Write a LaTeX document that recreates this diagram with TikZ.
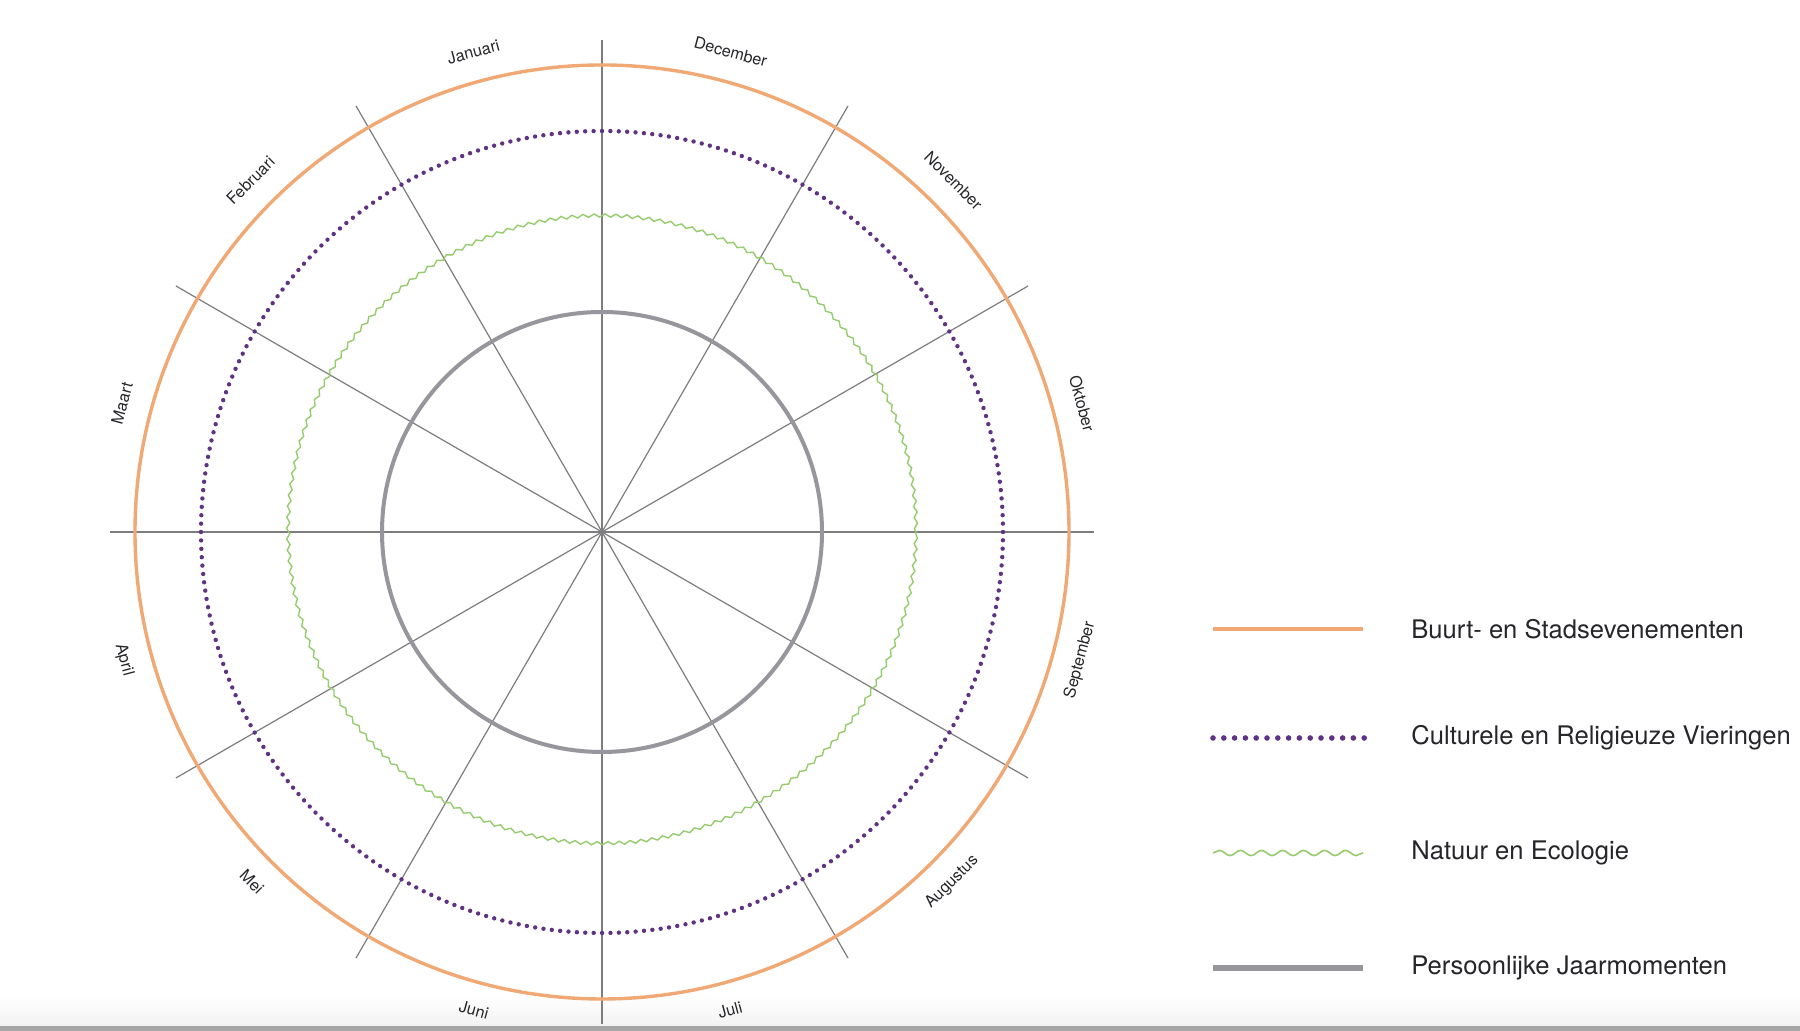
\documentclass[tikz,border=0pt]{standalone}
\usepackage{fontspec}
\setmainfont{TeX Gyre Heros}
\usetikzlibrary{decorations.pathmorphing}
\definecolor{orng}{RGB}{240,168,116}
\definecolor{purp}{RGB}{95,50,130}
\definecolor{grn}{RGB}{150,204,110}
\definecolor{ringgray}{RGB}{150,150,156}
\definecolor{spokegray}{RGB}{125,125,128}
\definecolor{txt}{RGB}{38,38,42}
\tikzset{
  spoke/.style={draw=spokegray, line width=0.6pt},
  orangering/.style={draw=orng, line width=1.7pt},
  purplering/.style={draw=purp, line width=2.2pt, line cap=round, dash pattern=on 0pt off 4.2pt},
  greenring/.style={draw=grn, line width=0.7pt, decorate, decoration={snake, segment length=5.5pt, amplitude=0.8pt}},
  grayring/.style={draw=ringgray, line width=2pt},
  monthlabel/.style={font=\fontsize{8.1}{9.6}\selectfont, text=txt, inner sep=0pt},
  legendtext/.style={font=\fontsize{12.8}{15}\selectfont, text=txt, anchor=west, inner sep=0pt},
}
\begin{document}
\begin{tikzpicture}[x=0.5pt,y=0.5pt]
\useasboundingbox (0,0) rectangle (1800,1031);
\fill[white] (0,0) rectangle (1800,1031);
\shade[top color=white, bottom color=black!5] (0,5) rectangle (1800,35);
\fill[black!35] (0,0) rectangle (1800,5);
\coordinate (c) at (602,499);
% spokes
\foreach \a in {0,30,...,150}{
  \draw[spoke] (c) ++(\a:492) coordinate (sa\a) -- ++(\a+180:984) coordinate (sb\a);
}
% rings
\draw[orangering] (c) circle[radius=467];
\draw[purplering] (c) circle[radius=401];
\draw[greenring] (c) circle[radius=314];
\draw[grayring] (c) circle[radius=220];
% month labels (top half)
\foreach \m/\a in {Januari/105, Februari/135, Maart/165, November/45, December/75, Oktober/15}{
  \path (c) ++(\a:497) node[monthlabel, rotate=\a-90] (m\m) {\m};
}
% month labels (bottom half)
\foreach \m/\a in {April/195, Mei/225, Juni/255, Juli/285, Augustus/315, September/345}{
  \path (c) ++(\a:495) node[monthlabel, rotate=\a+90] (m\m) {\m};
}
% legend
\coordinate (l1a) at (1213,402); \coordinate (l1b) at (1363,402);
\coordinate (l2a) at (1213,293); \coordinate (l2b) at (1366,293);
\coordinate (l3a) at (1213,178); \coordinate (l3b) at (1363,178);
\coordinate (l4a) at (1213,63);  \coordinate (l4b) at (1363,63);
\draw[draw=orng, line width=2pt] (l1a) -- (l1b);
\draw[draw=purp, line width=2.8pt, line cap=round, dash pattern=on 0pt off 5.4pt] (l2a) -- (l2b);
\draw[draw=grn, line width=0.8pt, decorate, decoration={snake, segment length=10.5pt, amplitude=1.3pt}] (l3a) -- (l3b);
\draw[draw=ringgray, line width=3pt] (l4a) -- (l4b);
\node[legendtext] (t1) at (1411,402) {Buurt- en Stadsevenementen};
\node[legendtext] (t2) at (1411,293) {Culturele en Religieuze Vieringen};
\node[legendtext] (t3) at (1411,178) {Natuur en Ecologie};
\node[legendtext] (t4) at (1411,63) {Persoonlijke Jaarmomenten};
\end{tikzpicture}
\end{document}
